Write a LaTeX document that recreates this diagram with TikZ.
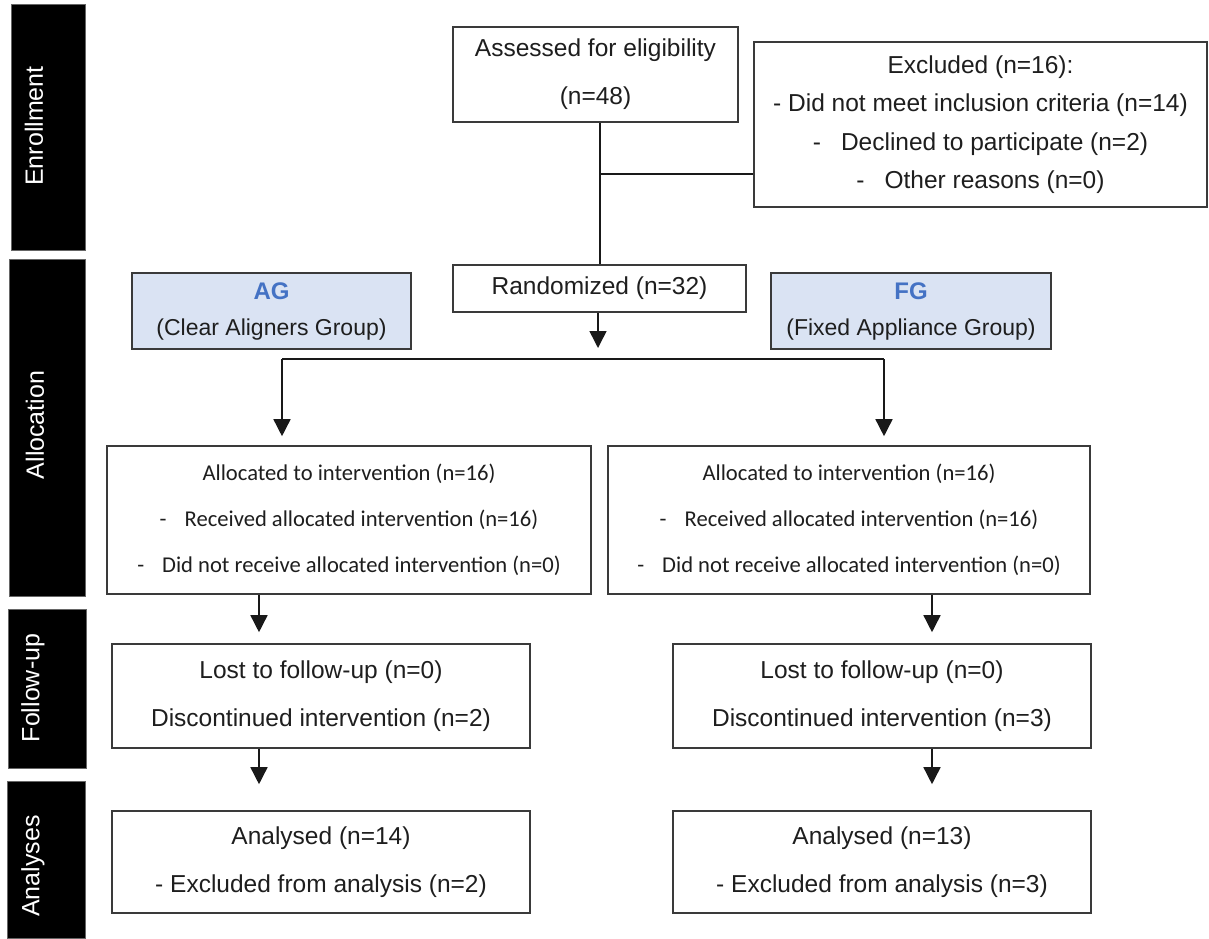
\documentclass[tikz,border=0pt]{standalone}
\usepackage{fontspec}
\setmainfont{Liberation Sans}
\newfontfamily\calibrifont{Carlito}
\usetikzlibrary{arrows.meta}
\definecolor{agblue}{HTML}{4472C4}
\definecolor{agfill}{HTML}{DAE3F3}
\definecolor{boxline}{HTML}{3A3A3A}
\definecolor{txt}{HTML}{1E1E1E}
\tikzset{
  box/.style={draw=boxline, line width=1.6pt, fill=white, inner sep=0pt, align=center, text=txt,
    font=\fontsize{24.5}{48}\selectfont},
  grpbox/.style={box, fill=agfill, font=\fontsize{23}{36}\selectfont},
  allocbox/.style={box, font=\calibrifont\fontsize{22.6}{46}\selectfont},
  exclbox/.style={box, font=\fontsize{24.5}{38.5}\selectfont},
  sidebox/.style={fill=black, draw=black!60, line width=0.5pt, inner sep=0pt},
  sidelabel/.style={text=white, rotate=90, font=\fontsize{25}{30}\selectfont, inner sep=0pt},
  line/.style={draw=black!90, line width=1.5pt},
  conn/.style={line, -{Triangle[length=17pt,width=17pt]}},
}
\begin{document}
\begin{tikzpicture}[x=1pt,y=1pt]
\useasboundingbox (0,0) rectangle (1209,-938);
% side bars
\node[sidebox, minimum width=74pt, minimum height=246pt] (enr) at (48,-127) {};
\node[sidebox, minimum width=76pt, minimum height=337pt] (alc) at (47,-427.5) {};
\node[sidebox, minimum width=78pt, minimum height=159pt] (fup) at (47,-688.5) {};
\node[sidebox, minimum width=78pt, minimum height=157pt] (ana) at (46,-859.5) {};
\node[sidelabel] (enrt) at (34,-126) {Enrollment};
\node[sidelabel] (alct) at (35,-425) {Allocation};
\node[sidelabel] (fupt) at (33,-688) {Follow-up};
\node[sidelabel] (anat) at (33,-866) {Analyses};
% enrollment
\node[box, minimum width=285pt, minimum height=95pt] (assess) at (595.5,-74.5)
  {Assessed for eligibility\\(n=48)};
\node[exclbox, minimum width=453pt, minimum height=165pt] (excl) at (980.5,-124.5)
  {Excluded (n=16):\\- Did not meet inclusion criteria (n=14)\\-\hspace{20pt}Declined to participate (n=2)\\-\hspace{20pt}Other reasons (n=0)};
\node[box, minimum width=293pt, minimum height=47pt] (rand) at (599.5,-288.5) {Randomized (n=32)};
% groups
\node[grpbox, minimum width=279pt, minimum height=76pt] (ag) at (271.5,-311)
  {{\fontsize{24}{36}\selectfont\bfseries\color{agblue}AG}\\(Clear Aligners Group)};
\node[grpbox, minimum width=280pt, minimum height=76pt] (fg) at (911,-311)
  {{\fontsize{24}{36}\selectfont\bfseries\color{agblue}FG}\\(Fixed Appliance Group)};
% allocation
\node[allocbox, minimum width=484pt, minimum height=148pt] (allocL) at (349,-520)
  {Allocated to intervention (n=16)\\-\hspace{18pt}Received allocated intervention (n=16)\\-\hspace{18pt}Did not receive allocated intervention (n=0)};
\node[allocbox, minimum width=482pt, minimum height=148pt] (allocR) at (849,-520)
  {Allocated to intervention (n=16)\\-\hspace{18pt}Received allocated intervention (n=16)\\-\hspace{18pt}Did not receive allocated intervention (n=0)};
% follow-up
\node[box, minimum width=418pt, minimum height=104pt] (lostL) at (321,-696)
  {Lost to follow-up (n=0)\\Discontinued intervention (n=2)};
\node[box, minimum width=418pt, minimum height=104pt] (lostR) at (882,-696)
  {Lost to follow-up (n=0)\\Discontinued intervention (n=3)};
% analyses
\node[box, minimum width=418pt, minimum height=102pt] (anaL) at (321,-862)
  {Analysed (n=14)\\- Excluded from analysis (n=2)};
\node[box, minimum width=418pt, minimum height=102pt] (anaR) at (882,-862)
  {Analysed (n=13)\\- Excluded from analysis (n=3)};
% connectors
\coordinate (branch) at (600,-174);
\draw[line] (rand.north -| branch) -- (assess.south -| branch);
\draw[line] (branch) -- (branch -| excl.west);
\coordinate (split) at (598,-359);
\coordinate (sL) at (282,-359);
\coordinate (sR) at (884,-359);
\draw[conn, shorten >=11pt] (rand.south -| split) -- (split);
\draw[line] (sL) -- (sR);
\draw[conn, shorten >=9pt] (sL) -- (sL |- allocL.north);
\draw[conn, shorten >=9pt] (sR) -- (sR |- allocR.north);
\coordinate (fL) at (259,0);
\coordinate (fR) at (932,0);
\draw[conn, shorten >=11pt] (allocL.south -| fL) -- (lostL.north -| fL);
\draw[conn, shorten >=11pt] (allocR.south -| fR) -- (lostR.north -| fR);
\draw[conn, shorten >=26pt] (lostL.south -| fL) -- (anaL.north -| fL);
\draw[conn, shorten >=26pt] (lostR.south -| fR) -- (anaR.north -| fR);
\end{tikzpicture}
\end{document}
